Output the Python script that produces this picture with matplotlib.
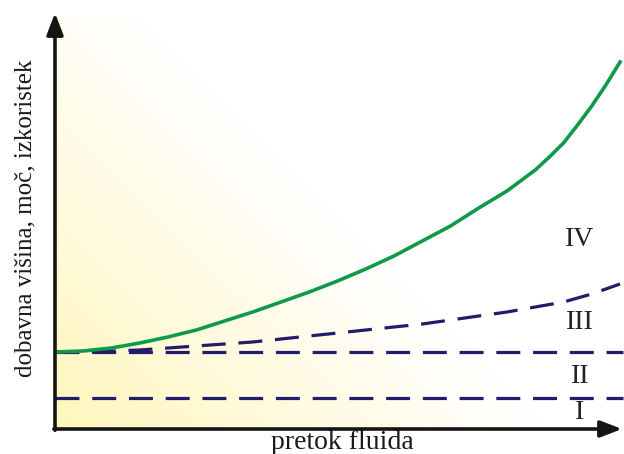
import numpy as np
import matplotlib
matplotlib.use("Agg")
import matplotlib.pyplot as plt

# ---- data (arbitrary units) ----
flow = [0, 0.5, 1, 1.5, 2, 2.5, 3, 3.5, 4, 4.5, 5, 5.5, 6, 6.5, 7, 7.5, 8, 8.5, 8.75,
        9, 9.25, 9.5, 9.75, 10]
curve_IV = [1.864, 1.889, 1.961, 2.082, 2.228, 2.397, 2.615, 2.833, 3.075, 3.317, 3.584,
            3.874, 4.189, 4.552, 4.915, 5.351, 5.763, 6.271, 6.586, 6.925, 7.361, 7.821,
            8.329, 8.886]
flow_III = [0, 0.5, 1, 1.5, 2, 2.5, 3, 3.5, 4, 4.5, 5, 5.5, 6, 6.5, 7, 7.5, 8, 8.5, 9, 9.5, 10]
curve_III = [1.864, 1.864, 1.889, 1.913, 1.961, 2.010, 2.058, 2.107, 2.179, 2.252, 2.324,
             2.397, 2.470, 2.542, 2.639, 2.736, 2.833, 2.954, 3.075, 3.269, 3.511]
level_III = 1.864
level_II = 0.75
region_labels = ["IV", "III", "II", "I"]
region_label_y = [4.60, 2.59, 1.26, 0.41]
region_label_x = 9.29
xlabel = "pretok fluida"
ylabel = "dobavna višina, moč, izkoristek"

W, H = 624, 454
fig = plt.figure(figsize=(W / 100, H / 100), dpi=100)
ax = fig.add_axes([0, 0, 1, 1])
ax.set_axis_off()
# pixel mapping: x=0 at px 55, 56.5 px/unit; y=0 at py 429, 41.3 px/unit
x0, sx = 55, 56.5
y0, sy = 429, 41.3
ax.set_xlim(-x0 / sx, (W - x0) / sx)
ax.set_ylim(-(H - y0) / sy, y0 / sy)

serif = ["Liberation Serif", "DejaVu Serif"]

# gradient background (pale yellow in lower-left fading to white)
xmax, ymax = 10.0, 10.0
nx, ny = 300, 300
u = np.linspace(0, 1, nx)
v = np.linspace(0, 1, ny)
U, V = np.meshgrid(u, v)
t = U / 0.88 + V / 1.2
a = np.clip(1 - t, 0, 1) ** 1.05
yellow = np.array([255, 246, 188]) / 255.0
img = np.ones((ny, nx, 3)) * (1 - a[..., None]) + yellow * a[..., None]
ax.imshow(img, extent=[0, xmax, 0, ymax], origin="lower", aspect="auto", zorder=0,
          interpolation="bilinear")

navy = "#211c6b"
green = "#0e9a4a"
lw = 2.3
dash = (7.5, 4.0)
ax.plot([0, 10.05], [level_II, level_II], color=navy, lw=lw, dashes=dash, zorder=3)
ax.plot([0, 10.05], [level_III, level_III], color=navy, lw=lw, dashes=dash, zorder=3)
ax.plot(flow_III, curve_III, color=navy, lw=lw, dashes=dash, zorder=3)
ax.plot(flow, curve_IV, color=green, lw=lw + 0.3, zorder=4, solid_joinstyle="round")

# axes arrows
arrow_kw = dict(arrowstyle="-|>,head_length=1.3,head_width=0.5", color="#151515", lw=2.6,
                shrinkA=0, shrinkB=0)
ax.annotate("", xy=(0, (y0 - 13) / sy), xytext=(0, -0.03), arrowprops=arrow_kw, zorder=5)
ax.annotate("", xy=((622 - x0) / sx, 0), xytext=(-0.02, 0), arrowprops=arrow_kw, zorder=5)

for lab, yy in zip(region_labels, region_label_y):
    ax.text(region_label_x, yy, lab, family=serif, fontsize=20, ha="center", va="center",
            color="#222222", zorder=6)

ax.text((342 - x0) / sx, (y0 - 449) / sy, xlabel, family=serif, fontsize=20, ha="center",
        va="baseline", color="#1a1a1a")
ax.text((25 - x0) / sx, (y0 - 218) / sy, ylabel, family=serif, fontsize=18, ha="center",
        va="center", rotation=90, color="#1a1a1a")

fig.savefig("out.png", dpi=100)
